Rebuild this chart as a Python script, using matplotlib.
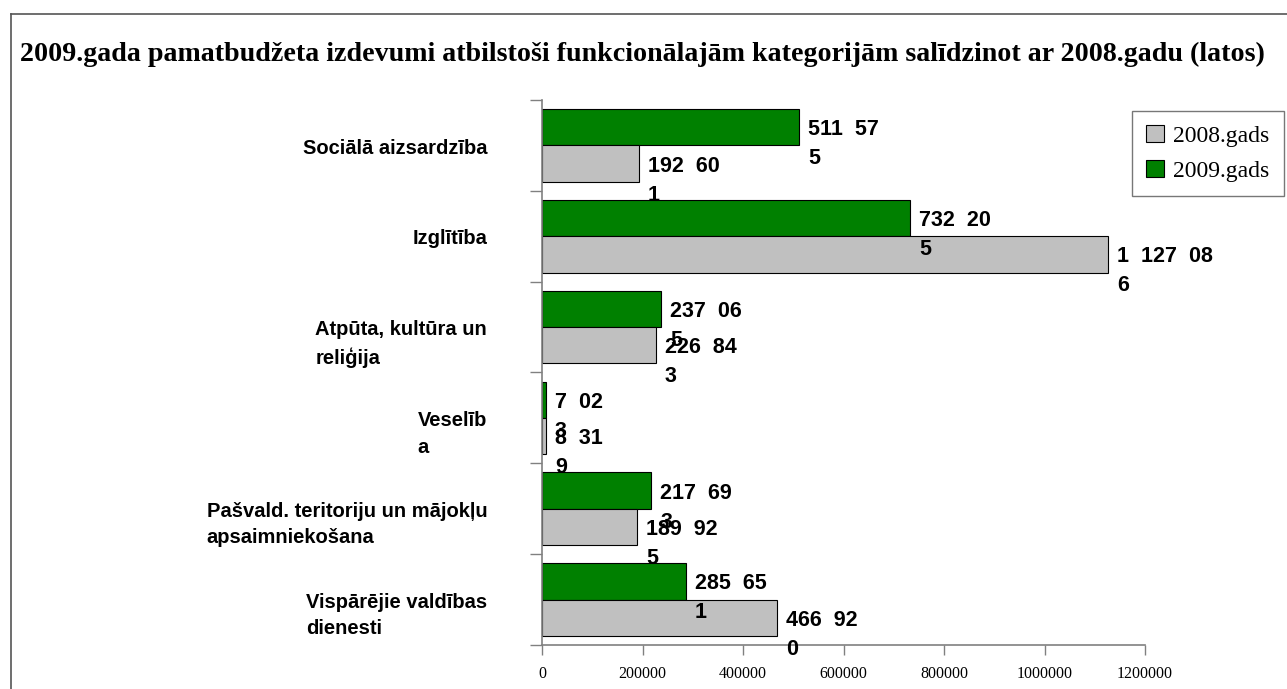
import numpy as np
import matplotlib
matplotlib.use("Agg")
import matplotlib.pyplot as plt
from matplotlib.lines import Line2D

# dati (lati)
categories = [
    "Sociālā aizsardzība",
    "Izglītība",
    "Atpūta, kultūra un\nreliģija",
    "Veselīb\na",
    "Pašvald. teritoriju un mājokļu\napsaimniekošana",
    "Vispārējie valdības\ndienesti",
]
values_2008 = [192601, 1127086, 226843, 8319, 189925, 466920]
values_2009 = [511575, 732205, 237065, 7023, 217693, 285651]
series_names = ["2008.gads", "2009.gads"]
x_ticks = [0, 200000, 400000, 600000, 800000, 1000000, 1200000]

title = ("2009.gada pamatbudžeta izdevumi atbilstoši funkcionālajām "
         "kategorijām salīdzinot ar 2008.gadu (latos)")

SANS = ["Liberation Sans", "DejaVu Sans"]
SERIF = ["Liberation Serif", "DejaVu Serif"]
GREEN = "#008000"
GRAY = "#C0C0C0"
AXCOL = "#808080"

VAL_FS = 15.5
CAT_FS = 14.5


def fmt_label(v):
    s = "{:,}".format(v).replace(",", "  ")
    # pēdējais cipars pārnests nākamajā rindā
    return s[:-1] + "\n" + s[-1]


W, H = 1287, 689
fig = plt.figure(figsize=(W / 100, H / 100), dpi=100)
ax = fig.add_axes([542 / W, 1 - 645 / H, (1145 - 542) / W, (645 - 100) / H])

y = np.arange(len(categories))
bh = 0.4
ax.barh(y - bh / 2, values_2009, height=bh, color=GREEN, edgecolor="black", linewidth=0.8, zorder=2)
ax.barh(y + bh / 2, values_2008, height=bh, color=GRAY, edgecolor="black", linewidth=0.8, zorder=2)

ax.set_ylim(len(categories) - 0.5, -0.5)
ax.set_xlim(0, 1200000)

# vērtību etiķetes (pirmā rinda pret stabiņa vidu)
for i in range(len(categories)):
    for v, yy in ((values_2009[i], y[i] - bh / 2), (values_2008[i], y[i] + bh / 2)):
        ax.annotate(fmt_label(v), xy=(v, yy), xytext=(6.5, 0.37 * VAL_FS), textcoords="offset points",
                    ha="left", va="top", fontsize=VAL_FS, fontweight="bold",
                    family=SANS, linespacing=1.5, zorder=5)

# kategoriju nosaukumi
for i, c in enumerate(categories):
    ax.annotate(c, xy=(0, y[i]), xycoords=("axes fraction", "data"),
                xytext=(-39.5, 0.34 * CAT_FS), textcoords="offset points",
                ha="right", va="top", multialignment="left",
                fontsize=CAT_FS, fontweight="bold", family=SANS, linespacing=1.5)

ax.set_yticks(np.arange(-0.5, len(categories) + 0.5, 1))
ax.set_yticklabels([])
ax.tick_params(axis="y", direction="out", length=8.5, width=1, color=AXCOL)
ax.set_xticks(x_ticks)
ax.set_xticklabels([str(t) for t in x_ticks], family=SERIF, fontsize=11.5)
ax.tick_params(axis="x", direction="out", length=7, width=1, color=AXCOL, pad=8)

for s in ("top", "right"):
    ax.spines[s].set_visible(False)
for s in ("left", "bottom"):
    ax.spines[s].set_color(AXCOL)
    ax.spines[s].set_linewidth(1.2)

# leģenda
handles = [plt.Rectangle((0, 0), 1, 1, facecolor=GRAY, edgecolor="black", linewidth=0.8),
           plt.Rectangle((0, 0), 1, 1, facecolor=GREEN, edgecolor="black", linewidth=0.8)]
leg = fig.legend(handles, series_names, loc="upper left",
                 bbox_to_anchor=(1132 / W, 1 - 111 / H), bbox_transform=fig.transFigure,
                 prop={"family": SERIF, "size": 17}, frameon=True, fancybox=False,
                 handlelength=0.75, handleheight=0.75, handletextpad=0.4,
                 borderpad=0.6, labelspacing=0.55, borderaxespad=0)
leg.get_frame().set_edgecolor("#555555")
leg.get_frame().set_linewidth(1.0)

fig.text(20 / W, 1 - 54 / H, title, ha="left", va="center", family=SERIF,
         fontweight="bold", fontsize=20.2)

# rāmis ap attēlu
fig.add_artist(Line2D([11 / W, 1], [1 - 14 / H, 1 - 14 / H], color="#555555", linewidth=1.2,
                      transform=fig.transFigure))
fig.add_artist(Line2D([11 / W, 11 / W], [1 - 14 / H, 0], color="#555555", linewidth=1.2,
                      transform=fig.transFigure))

fig.savefig("out.png", dpi=100)
